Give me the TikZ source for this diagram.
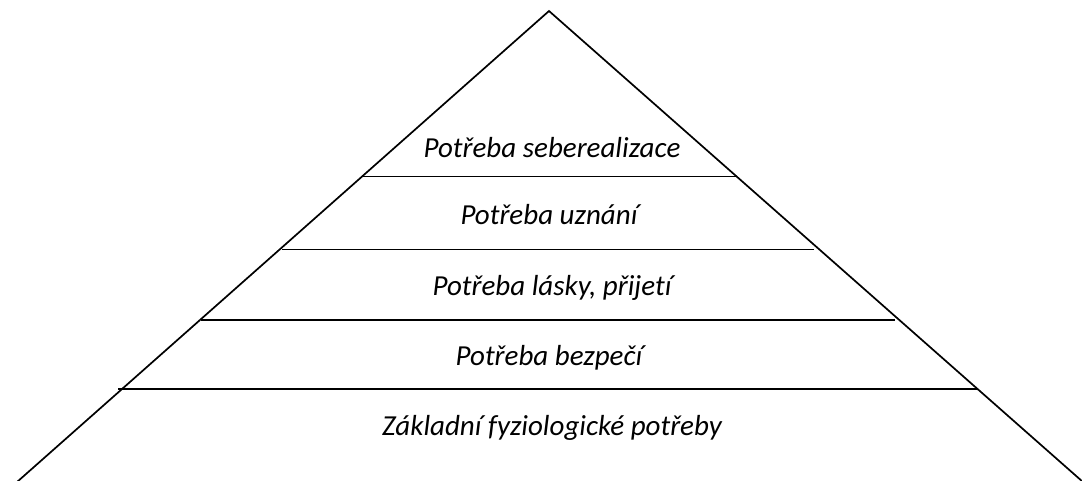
\documentclass[tikz,border=0pt]{standalone}
\usepackage{fontspec}
\setmainfont{Carlito}[Ligatures=NoCommon]
\begin{document}
\begin{tikzpicture}[x=1pt,y=-1pt,
  edge/.style={line width=1.7pt,black},
  level/.style={line width=1.8pt,black},
  lbl/.style={font=\fontsize{29}{34}\selectfont\itshape,inner sep=0pt,anchor=base}]
\useasboundingbox (0,0) rectangle (1082,480);
\clip (0,0) rectangle (1082,480);
\coordinate (apex) at (549,11);
\coordinate (bl) at (17,482);
\coordinate (br) at (1083,482);
\draw[edge] (bl) -- (apex) -- (br);
\coordinate (a1) at (362,176.5); \coordinate (b1) at (737,176.5);
\coordinate (a2) at (282,249.5); \coordinate (b2) at (814,249.5);
\coordinate (a3) at (201,320);   \coordinate (b3) at (895,320);
\coordinate (a4) at (118,389);   \coordinate (b4) at (977,389);
\draw[level] (a1) -- (b1);
\draw[level] (a2) -- (b2);
\draw[level] (a3) -- (b3);
\draw[level] (a4) -- (b4);
\node[lbl] (t1) at (552,157) {Potřeba seberealizace};
\node[lbl] (t2) at (549,224) {Potřeba uznání};
\node[lbl] (t3) at (552,295) {Potřeba lásky, přijetí};
\node[lbl] (t4) at (549,365) {Potřeba bezpečí};
\node[lbl] (t5) at (552,435) {Základní fyziologické potřeby};
\end{tikzpicture}
\end{document}
